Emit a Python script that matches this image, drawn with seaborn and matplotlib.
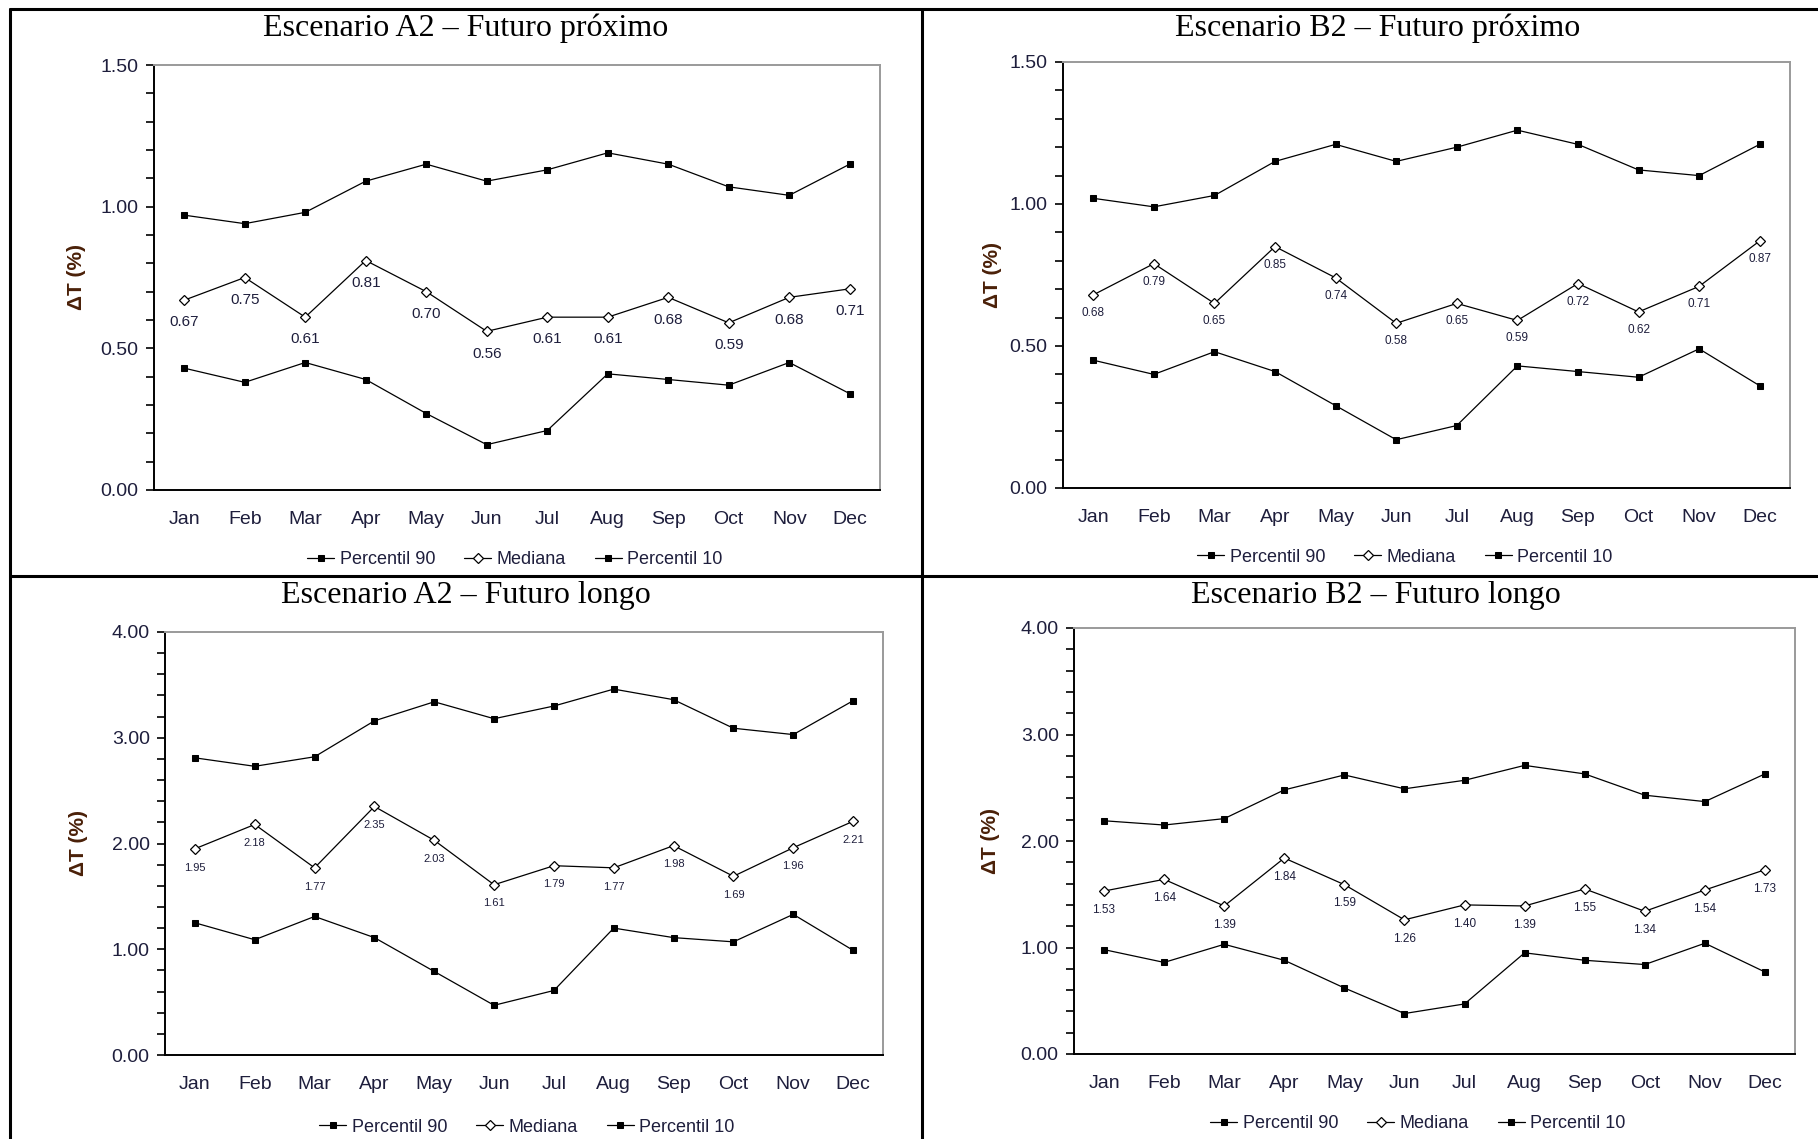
import numpy as np
import pandas as pd
import matplotlib
matplotlib.use('Agg')
import matplotlib.pyplot as plt
from matplotlib.lines import Line2D
from matplotlib.ticker import MultipleLocator
import seaborn as sns

# Data
meses = ['Jan', 'Feb', 'Mar', 'Apr', 'May', 'Jun', 'Jul', 'Aug', 'Sep', 'Oct', 'Nov', 'Dec']

a2_proximo_p90 = [0.97, 0.94, 0.98, 1.09, 1.15, 1.09, 1.13, 1.19, 1.15, 1.07, 1.04, 1.15]
a2_proximo_med = [0.67, 0.75, 0.61, 0.81, 0.70, 0.56, 0.61, 0.61, 0.68, 0.59, 0.68, 0.71]
a2_proximo_p10 = [0.43, 0.38, 0.45, 0.39, 0.27, 0.16, 0.21, 0.41, 0.39, 0.37, 0.45, 0.34]

b2_proximo_p90 = [1.02, 0.99, 1.03, 1.15, 1.21, 1.15, 1.20, 1.26, 1.21, 1.12, 1.10, 1.21]
b2_proximo_med = [0.68, 0.79, 0.65, 0.85, 0.74, 0.58, 0.65, 0.59, 0.72, 0.62, 0.71, 0.87]
b2_proximo_p10 = [0.45, 0.40, 0.48, 0.41, 0.29, 0.17, 0.22, 0.43, 0.41, 0.39, 0.49, 0.36]

a2_longo_p90 = [2.81, 2.73, 2.82, 3.16, 3.34, 3.18, 3.30, 3.46, 3.36, 3.09, 3.03, 3.35]
a2_longo_med = [1.95, 2.18, 1.77, 2.35, 2.03, 1.61, 1.79, 1.77, 1.98, 1.69, 1.96, 2.21]
a2_longo_p10 = [1.25, 1.09, 1.31, 1.11, 0.79, 0.47, 0.61, 1.20, 1.11, 1.07, 1.33, 0.99]

b2_longo_p90 = [2.19, 2.15, 2.21, 2.48, 2.62, 2.49, 2.57, 2.71, 2.63, 2.43, 2.37, 2.63]
b2_longo_med = [1.53, 1.64, 1.39, 1.84, 1.59, 1.26, 1.40, 1.39, 1.55, 1.34, 1.54, 1.73]
b2_longo_p10 = [0.98, 0.86, 1.03, 0.88, 0.62, 0.38, 0.47, 0.95, 0.88, 0.84, 1.04, 0.77]

W, H = 1818, 1139
navy = '#1e1e3c'
sans = ['Liberation Sans', 'DejaVu Sans']

sns.set_style('white')
plt.rcParams['font.family'] = sans

fig = plt.figure(figsize=(W / 100, H / 100), dpi=100)


def px_rect(left, top, right, bottom):
    return [left / W, 1 - bottom / H, (right - left) / W, (bottom - top) / H]


def draw_panel(rect, title, title_xy, p90, med, p10, ymax, major, minor,
               lab_size, lab_off, legend_xy, ylab_x):
    ax = fig.add_axes(px_rect(*rect))
    df = pd.DataFrame({'x': np.arange(len(meses)), 'p90': p90, 'med': med, 'p10': p10})
    sns.lineplot(data=df, x='x', y='p90', ax=ax, color='black', lw=0.9,
                 marker='s', ms=4.8, mec='black', mfc='black', label='Percentil 90')
    sns.lineplot(data=df, x='x', y='med', ax=ax, color='black', lw=0.9,
                 marker='D', ms=5.5, mec='black', mfc='white', mew=0.9, label='Mediana')
    sns.lineplot(data=df, x='x', y='p10', ax=ax, color='black', lw=0.9,
                 marker='s', ms=4.8, mec='black', mfc='black', label='Percentil 10')

    for xi, v in zip(df['x'], df['med']):
        ax.annotate(f'{v:.2f}', (xi, v), xytext=(0, -lab_off), textcoords='offset points',
                    ha='center', va='center', fontsize=lab_size, color=navy)

    ax.set_xlim(-0.5, len(meses) - 0.5)
    ax.set_ylim(0, ymax)
    ax.set_xticks(df['x'])
    ax.set_xticklabels(meses)
    ax.set_xticks(np.arange(-0.5, len(meses)), minor=True)
    ax.tick_params(axis='x', which='major', length=0, pad=15, labelsize=14, labelcolor=navy)
    ax.tick_params(axis='x', which='minor', length=6, width=1.2, color='black', direction='out')
    ax.yaxis.set_major_locator(MultipleLocator(major))
    ax.yaxis.set_minor_locator(MultipleLocator(minor))
    ax.yaxis.set_major_formatter(matplotlib.ticker.FormatStrFormatter('%.2f'))
    ax.tick_params(axis='y', which='both', length=6, width=1.2, color='black',
                   direction='out', left=True, labelsize=14, labelcolor=navy, pad=5)
    ax.set_xlabel('')
    ax.set_ylabel('')
    for s in ['left', 'bottom']:
        ax.spines[s].set_color('black')
        ax.spines[s].set_linewidth(1.4)
    for s in ['top', 'right']:
        ax.spines[s].set_color('#9a9a9a')
        ax.spines[s].set_linewidth(1.4)

    cy = 1 - (rect[1] + rect[3]) / 2 / H
    fig.text(ylab_x / W, cy, 'ΔT (%)', rotation=90, ha='center', va='center',
             fontsize=15, fontweight='bold', color='#4a2008', family=sans)
    fig.text(title_xy[0] / W, 1 - title_xy[1] / H, title, ha='center', va='center',
             fontsize=23, family=['Liberation Serif', 'DejaVu Serif'], color='black')

    leg = ax.legend(loc='center', bbox_to_anchor=(legend_xy[0] / W, 1 - legend_xy[1] / H),
                    bbox_transform=fig.transFigure, ncol=3, frameon=False, fontsize=13,
                    handlelength=1.5, handletextpad=0.3, columnspacing=1.6)
    for t in leg.get_texts():
        t.set_color(navy)
    return ax


draw_panel((154, 65, 880, 490), 'Escenario A2 – Futuro próximo', (466, 28),
           a2_proximo_p90, a2_proximo_med, a2_proximo_p10, 1.5, 0.5, 0.1,
           11, 16, (515, 560), 76)
draw_panel((1063, 62, 1790, 488), 'Escenario B2 – Futuro próximo', (1378, 28),
           b2_proximo_p90, b2_proximo_med, b2_proximo_p10, 1.5, 0.5, 0.1,
           8.5, 13, (1405, 557), 993)
draw_panel((165, 632, 883, 1055), 'Escenario A2 – Futuro longo', (466, 596),
           a2_longo_p90, a2_longo_med, a2_longo_p10, 4.0, 1.0, 0.2,
           8, 13.5, (527, 1127), 79)
draw_panel((1074, 628, 1795, 1054), 'Escenario B2 – Futuro longo', (1376, 595),
           b2_longo_p90, b2_longo_med, b2_longo_p10, 4.0, 1.0, 0.2,
           8.5, 13.5, (1418, 1124), 991)

# frame lines around the four panels
def frame_line(x0, y0, x1, y1):
    fig.add_artist(Line2D([x0 / W, x1 / W], [1 - y0 / H, 1 - y1 / H],
                          transform=fig.transFigure, color='black', lw=2.2))

frame_line(10, 9, W, 9)
frame_line(10, 9, 10, H)
frame_line(922, 9, 922, H)
frame_line(10, 576, W, 576)

fig.savefig('out.png', dpi=100)
